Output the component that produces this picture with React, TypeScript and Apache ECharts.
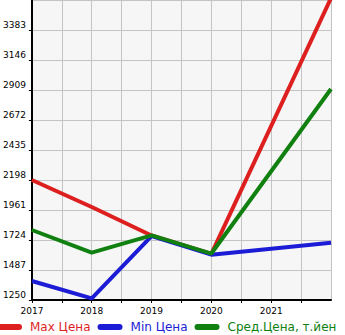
import React, { useEffect, useRef } from "react";
import * as echarts from "echarts";

const years = [2017, 2018, 2019, 2020, 2022];
const maxPrice = [2198, 1985, 1760, 1615, 3635];
const minPrice = [1400, 1263, 1755, 1608, 1703];
const avgPrice = [1803, 1624, 1760, 1617, 2917];
const seriesNames = ["Max Цена", "Min Цена", "Сред.Цена, т.йен"];
const colors = ["#dd1f1f", "#1c1cd6", "#108010"];

const pair = (vals: number[]) => years.map((y, i) => [y, vals[i]]);

export default function App() {
  const ref = useRef<HTMLDivElement>(null);
  useEffect(() => {
    if (!ref.current) return;
    const chart = echarts.init(ref.current, null, { renderer: "svg" });
    const font = "DejaVu Sans";
    const capsule =
      "path://M3,0 L22,0 A3,3 0 0 1 22,6 L3,6 A3,3 0 0 1 3,0 Z";
    chart.setOption({
      animation: false,
      textStyle: { fontFamily: font },
      grid: {
        left: 31,
        right: 14,
        top: 0,
        bottom: 35,
        show: true,
        backgroundColor: "#f6f6f6",
        borderWidth: 0,
      },
      legend: {
        top: 321,
        left: -3,
        width: 400,
        padding: 0,
        itemWidth: 25,
        itemHeight: 6,
        itemGap: 7,
        icon: capsule,
        textStyle: { fontFamily: font, fontSize: 12, padding: [0, 0, 0, 3] },
        data: seriesNames.map((n, i) => ({
          name: n,
          textStyle: { color: colors[i] },
        })),
      },
      xAxis: {
        type: "value",
        min: 2017,
        max: 2022,
        interval: 0.5,
        axisLine: { lineStyle: { color: "#000", width: 2 } },
        axisTick: { show: true, length: 3, lineStyle: { color: "#000" } },
        splitLine: { show: true, lineStyle: { color: "#c4c4c4", width: 1 } },
        axisLabel: {
          showMaxLabel: false,
          fontSize: 9,
          color: "#000",
          fontFamily: font,
          margin: 6,
          formatter: (v: number) => (Number.isInteger(v) ? String(v) : ""),
        },
      },
      yAxis: {
        type: "value",
        min: 1250,
        max: 3620,
        interval: 237,
        axisLine: { show: true, lineStyle: { color: "#000", width: 2 } },
        axisTick: { show: true, length: 3, lineStyle: { color: "#000" } },
        splitLine: { show: true, lineStyle: { color: "#c4c4c4", width: 1 } },
        axisLabel: {
          showMaxLabel: false,
          fontSize: 9,
          color: "#000",
          fontFamily: font,
          margin: 6,
          verticalAlign: "bottom",
          lineHeight: 10,
          formatter: (v: number) => String(v),
        },
      },
      series: [maxPrice, minPrice, avgPrice].map((vals, i) => ({
        name: seriesNames[i],
        type: "line",
        data: pair(vals),
        symbol: "none",
        clip: true,
        lineStyle: { color: colors[i], width: 4 },
        itemStyle: { color: colors[i] },
        z: 2 + i,
      })),
    });
    return () => chart.dispose();
  }, []);
  return <div ref={ref} style={{ width: 345, height: 335, position: "absolute", left: 0, top: 0 }} />;
}
